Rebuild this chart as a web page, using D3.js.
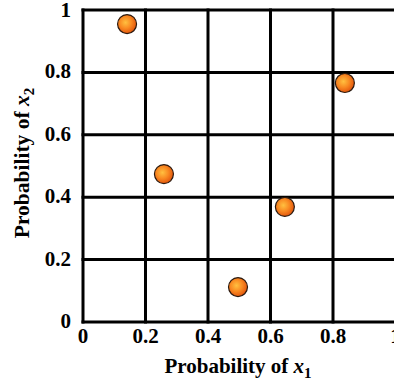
<!DOCTYPE html>
<html>
<head>
<meta charset="utf-8">
<script src="https://cdn.jsdelivr.net/npm/d3@7"></script>
<style>
  body { margin: 0; background: #fff; }
  svg { display: block; }
  text { font-family: "Liberation Serif", "Times New Roman", serif; font-weight: bold; fill: #000; }
</style>
</head>
<body>
<div id="chart"></div>
<script>
// values
const px1 = [0.141, 0.259, 0.496, 0.646, 0.838];
const px2 = [0.955, 0.474, 0.112, 0.369, 0.766];
const ticks = [0, 0.2, 0.4, 0.6, 0.8, 1];

const width = 394, height = 383;
const margin = { left: 83, top: 10 },
  plotW = 312.5,
  plotH = 312;

const svg = d3.select("#chart").append("svg").attr("width", width).attr("height", height);

const x = d3.scaleLinear().domain([0, 1]).range([margin.left, margin.left + plotW]),
  y = d3.scaleLinear().domain([0, 1]).range([margin.top + plotH, margin.top]);

// ball fill
const grad = svg.append("defs").append("radialGradient")
  .attr("id", "ball").attr("cx", "42%").attr("cy", "42%").attr("r", "62%");
grad.append("stop").attr("offset", "0%").attr("stop-color", "#ffc040");
grad.append("stop").attr("offset", "50%").attr("stop-color", "#f98a22");
grad.append("stop").attr("offset", "100%").attr("stop-color", "#e0500a");

// grid
const grid = svg.append("g").style("stroke", "#000").style("stroke-width", 3);
grid.selectAll("line.v").data(ticks).enter().append("line").classed("v", true)
  .attr("x1", d => x(d)).attr("x2", d => x(d))
  .attr("y1", y(0) + 1.5).attr("y2", y(1) - 1.5);
grid.selectAll("line.h").data(ticks).enter().append("line").classed("h", true)
  .attr("y1", d => y(d)).attr("y2", d => y(d))
  .attr("x1", x(0) - 1.5).attr("x2", x(1) + 1.5);

// tick labels
svg.append("g").selectAll("text").data(ticks).enter().append("text")
  .attr("x", d => x(d)).attr("y", y(0) + 21)
  .attr("text-anchor", "middle").style("font-size", "21px")
  .text(d => String(d));
svg.append("g").selectAll("text").data(ticks).enter().append("text")
  .attr("x", 71).attr("y", d => Math.max(y(d) + 6, 17))
  .attr("text-anchor", "end").style("font-size", "21px")
  .text(d => String(d));

// axis titles
const xt = svg.append("text").attr("x", 238).attr("y", 373)
  .attr("text-anchor", "middle").style("font-size", "21px");
xt.append("tspan").text("Probability of ");
xt.append("tspan").style("font-style", "italic").text("x");
xt.append("tspan").attr("dy", 5).style("font-size", "15px").text("1");

const yt = svg.append("text").attr("transform", "translate(29,163) rotate(-90)")
  .attr("text-anchor", "middle").style("font-size", "21.5px");
yt.append("tspan").text("Probability of ");
yt.append("tspan").style("font-style", "italic").text("x");
yt.append("tspan").attr("dy", 5).style("font-size", "15px").text("2");

// points
svg.append("g").selectAll("circle").data(px1.map((d, i) => [d, px2[i]])).enter().append("circle")
  .attr("cx", d => x(d[0])).attr("cy", d => y(d[1])).attr("r", 9.5)
  .style("fill", "url(#ball)").style("stroke", "#2a1a10").style("stroke-width", 1.2);
</script>
</body>
</html>
